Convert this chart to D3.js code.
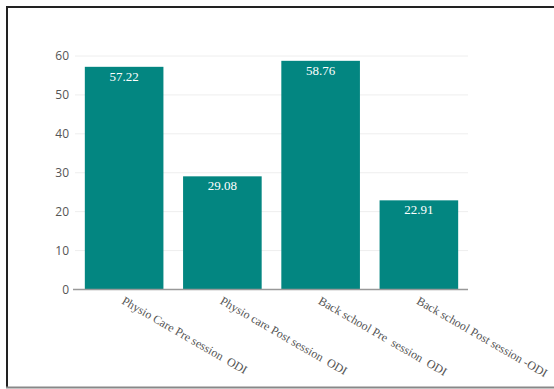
<!DOCTYPE html>
<html>
<head>
<meta charset="utf-8">
<script src="https://d3js.org/d3.v7.min.js"></script>
<style type="text/css">
	body { margin: 0; background: #fff; }
	.ytick text { font-family: "Open Sans", sans-serif; font-size: 12px; fill: #555; }
</style>
</head>
<body>
<script type="text/javascript">

var width = 554,
	height = 389;

// data
var categories = ["Physio Care Pre session  ODI", "Physio care Post session  ODI", "Back school Pre  session  ODI", "Back school Post session -ODI"];
var values = [57.22, 29.08, 58.76, 22.91];
var yTicks = [0, 10, 20, 30, 40, 50, 60];

var serif = "'Liberation Serif', 'Times New Roman', Times, serif";

var svg = d3.select('body').append('svg')
	.attr('width', width)
	.attr('height', height)

// outer frame
svg.append('line').attr('x1', 7).attr('x2', 7).attr('y1', 6).attr('y2', 388)
	.style('stroke', '#222').style('stroke-width', 2)
svg.append('line').attr('x1', 6).attr('x2', width).attr('y1', 7).attr('y2', 7)
	.style('stroke', '#222').style('stroke-width', 2)
svg.append('line').attr('x1', 6).attr('x2', width).attr('y1', 387.5).attr('y2', 387.5)
	.style('stroke', '#888').style('stroke-width', 2)

var x = d3.scaleBand()
	.domain(categories)
	.range([75, 468])
	.paddingInner(0.2)
	.paddingOuter(0.1)

var y = d3.scaleLinear()
	.domain([0, 60])
	.range([289.5, 56])

// gridlines
svg.selectAll('.grid')
	.data(yTicks.filter(function(d){ return d > 0; }))
	.enter().append('line')
	.attr('x1', 75).attr('x2', 468)
	.attr('y1', function(d){ return y(d); })
	.attr('y2', function(d){ return y(d); })
	.style('stroke', '#eee')

// y axis labels
var yAxis = d3.axisLeft(y).tickValues(yTicks).tickSize(0).tickPadding(4)
var ya = svg.append('g').attr('transform', 'translate(73,0)').call(yAxis)
ya.select('.domain').remove()
ya.selectAll('.tick').classed('ytick', true)
ya.selectAll('text').attr('font-family', null).attr('font-size', null).attr('fill', null)

// bars
svg.selectAll('.bar')
	.data(values)
	.enter().append('rect')
	.attr('x', function(d, i){ return x(categories[i]); })
	.attr('y', function(d){ return y(d); })
	.attr('width', x.bandwidth())
	.attr('height', function(d){ return y(0) - y(d); })
	.attr('fill', '#038681')

svg.selectAll('.val')
	.data(values)
	.enter().append('text')
	.attr('x', function(d, i){ return x(categories[i]) + x.bandwidth() / 2; })
	.attr('y', function(d){ return y(d) + 14; })
	.attr('text-anchor', 'middle')
	.attr('font-family', serif)
	.attr('font-size', 13)
	.attr('fill', '#fff')
	.text(function(d){ return d3.format(".2f")(d); })

// x axis line
svg.append('line')
	.attr('x1', 73).attr('x2', 468)
	.attr('y1', y(0)).attr('y2', y(0))
	.style('stroke', '#999').style('stroke-width', 1.5)

// category labels
svg.selectAll('.xlab')
	.data(categories)
	.enter().append('text')
	.attr('transform', function(d){
		return 'translate(' + (x(d) + x.bandwidth() / 2 - 1) + ',' + (y(0) + 10) + ') rotate(30)';
	})
	.attr('text-anchor', 'start')
	.attr('dy', '0.35em')
	.attr('font-family', serif)
	.attr('font-size', 12)
	.attr('fill', '#555')
	.style('white-space', 'pre')
	.text(function(d){ return d; })

</script>
</body>
</html>
